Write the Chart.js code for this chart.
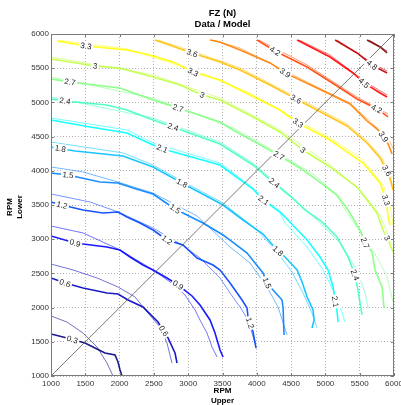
<!DOCTYPE html>
<html>
<head>
<meta charset="utf-8">
<script src="https://cdn.jsdelivr.net/npm/chart.js@4/dist/chart.umd.min.js"></script>
<style>
  html, body { margin: 0; padding: 0; background: #fff; }
  #c { display: block; }
</style>
</head>
<body>
<canvas id="c" width="401" height="405"></canvas>
<script>
// contour levels of FZ (N) and their jet colours
const LEVELS = [0.3, 0.6, 0.9, 1.2, 1.5, 1.8, 2.1, 2.4, 2.7, 3, 3.3, 3.6, 3.9, 4.2, 4.5, 4.8, 5.1];
const LEVEL_COLORS = ['#000080','#0000bf','#0000ff','#0040ff','#0080ff','#00bfff','#00ffff','#40ffbf',
                      '#80ff80','#bfff40','#ffff00','#ffbf00','#ff8000','#ff4000','#ff0000','#bf0000','#800000'];
const TICKS = [1000, 1500, 2000, 2500, 3000, 3500, 4000, 4500, 5000, 5500, 6000];

// [RPM upper, RPM lower] along each iso-line; D = measured data, M = model
const D03 = [[1000,1614],[1233,1556],[1496,1482],[1671,1395],[1787,1336],[1933,1307],[1977,1205],[2006,1088],[2035,1000]];
const M03 = [[1000,1877],[1233,1789],[1467,1629],[1671,1424],[1816,1190],[1904,1000]];
const D06 = [[1000,2433],[1204,2360],[1467,2287],[1816,2213],[1977,2199],[2123,2111],[2341,2009],[2560,1789],[2706,1556],[2808,1336],[2837,1190]];
const M06 = [[1000,2637],[1321,2550],[1671,2433],[1977,2301],[2225,2155],[2400,1936],[2589,1716],[2691,1482],[2764,1190]];
const D09 = [[1000,3047],[1350,2944],[1816,2886],[2006,2842],[2152,2740],[2341,2623],[2487,2550],[2691,2433],[2852,2330],[3056,2170],[3172,2038],[3318,1819],[3391,1629],[3464,1380],[3508,1278]];
const M09 = [[1000,3193],[1467,3091],[1977,2857],[2298,2667],[2487,2550],[2735,2375],[2954,2184],[3100,1965],[3172,1819],[3274,1629],[3347,1424],[3420,1278]];
const D12 = [[1000,3544],[1160,3500],[1467,3427],[1758,3383],[1977,3398],[2108,3325],[2298,3237],[2487,3134],[2691,2988],[2925,2915],[3129,2725],[3362,2623],[3464,2550],[3610,2360],[3785,2111],[3858,1994],[3872,1863],[3945,1643],[3989,1409]];
const M12 = [[1000,3661],[1569,3544],[1977,3398],[2487,3164],[2910,2915],[3172,2725],[3464,2433],[3610,2213],[3756,2009],[3872,1819],[3974,1483]];
const D15 = [[1000,3968],[1248,3939],[1714,3836],[1977,3822],[2196,3749],[2487,3661],[2808,3442],[3216,3237],[3508,3061],[3610,2988],[3858,2798],[4091,2506],[4149,2360],[4237,2257],[4368,2111],[4383,1994],[4397,1599]];
const M15 = [[1000,4056],[1467,3983],[1977,3836],[2487,3675],[3129,3339],[3610,2886],[3901,2652],[4149,2301],[4310,2009],[4441,1599]];
const D18 = [[1000,4348],[1350,4290],[2050,4217],[2487,4056],[2910,3822],[3508,3500],[3800,3281],[4091,3076],[4295,2842],[4412,2740],[4587,2550],[4660,2374],[4733,2155],[4820,1965],[4835,1819],[4805,1702]];
const M18 = [[1000,4421],[2050,4261],[2487,4085],[2910,3851],[3508,3529],[4003,3134],[4295,2813],[4514,2520],[4674,2213],[4805,1921],[4878,1702]];
const D21 = [[1000,4743],[1569,4641],[2108,4553],[2487,4377],[2633,4319],[3464,4085],[3945,3734],[4091,3573],[4339,3398],[4455,3281],[4733,2988],[4922,2740],[5039,2550],[5112,2301],[5141,2111],[5170,1936],[5185,1790]];
const M21 = [[1000,4772],[2108,4597],[2487,4407],[3464,4114],[3945,3749],[4339,3383],[4412,3237],[4733,2886],[4966,2550],[5112,2257],[5214,2009],[5287,1790]];
const D24 = [[1000,5050],[1204,5021],[1816,4962],[2108,4889],[2487,4743],[2779,4641],[3464,4392],[3945,4085],[4237,3836],[4485,3631],[4703,3427],[4951,3252],[5170,3032],[5330,2740],[5432,2477],[5476,2257],[5505,2067],[5534,1892]];
const M24 = [[1000,5079],[2487,4772],[3464,4421],[3945,4114],[4485,3646],[4878,3281],[5214,2944],[5461,2550],[5578,2213],[5622,1994]];
const D27 = [[1000,5342],[1277,5299],[2006,5211],[2487,5035],[2852,4918],[3464,4714],[3654,4597],[3974,4421],[4310,4231],[4630,4041],[4820,3909],[5170,3646],[5330,3427],[5505,3134],[5578,2944],[5680,2813],[5724,2550],[5826,2301],[5855,1994]];
const M27 = [[1000,5371],[2487,5064],[3654,4626],[4310,4260],[4820,3954],[5141,3676],[5316,3383],[5549,3047],[5753,2740],[5899,2447],[5987,2082]];
const D30 = [[1000,5635],[1642,5533],[2006,5504],[2487,5372],[2881,5255],[3202,5109],[3464,5035],[3945,4787],[4339,4568],[4674,4304],[5068,4056],[5461,3763],[5753,3383],[5840,3134],[5899,3017],[5987,2813]];
const M30 = [[1000,5664],[2487,5401],[3464,5064],[4339,4597],[5068,4085],[5505,3719],[5797,3354],[5972,2915]];
const D33 = [[1088,5898],[1511,5825],[2108,5766],[2443,5693],[2779,5591],[3071,5445],[3464,5328],[3901,5109],[4339,4889],[4601,4699],[5068,4450],[5549,4114],[5797,3822],[5884,3573],[5914,3325],[5943,3208]];
const M33 = [[1088,5912],[2108,5781],[3071,5474],[3901,5138],[4601,4728],[5068,4480],[5549,4158],[5840,3793],[5943,3500],[5987,3208]];
const D36 = [[2516,5912],[3056,5722],[3464,5591],[3756,5474],[4193,5255],[4572,5050],[4820,4918],[5316,4655],[5607,4407],[5797,4187],[5899,3997],[5957,3837],[5987,3719]];
const M36 = [[2560,5912],[3056,5751],[3756,5503],[4572,5079],[5316,4684],[5607,4436],[5826,4187],[5943,3939],[5987,3719]];
const D39 = [[3318,5912],[3464,5883],[3756,5766],[4193,5577],[4412,5431],[4878,5211],[5359,4977],[5607,4728],[5753,4611],[5840,4509],[5914,4392],[5972,4246]];
const M39 = [[3347,5912],[3756,5795],[4412,5459],[4878,5225],[5359,4991],[5753,4626],[5943,4421],[6000,4304]];
const D42 = [[4003,5912],[4266,5751],[4733,5518],[5170,5240],[5461,5050],[5753,4904],[5914,4787]];
const M42 = [[4033,5912],[4733,5547],[5461,5079],[5914,4831]];
const D45 = [[4587,5912],[5068,5664],[5403,5430],[5563,5284],[5797,5138],[5899,5079]];
const M45 = [[4616,5912],[5068,5693],[5563,5313],[5899,5109]];
const D48 = [[5141,5912],[5461,5723],[5680,5547],[5899,5430]];
const M48 = [[5170,5912],[5680,5576],[5899,5459]];
const D51 = [[5607,5912],[5797,5810],[5899,5723]];
const M51 = [[5636,5912],[5899,5751]];

const DATA_LINES  = [D03, D06, D09, D12, D15, D18, D21, D24, D27, D30, D33, D36, D39, D42, D45, D48, D51];
const MODEL_LINES = [M03, M06, M09, M12, M15, M18, M21, M24, M27, M30, M33, M36, M39, M42, M45, M48, M51];

// inline labels: [level, RPM upper, RPM lower] (snapped onto the data line)
const LABELS = [
  [0.3,1306,1512],
  [0.6,1204,2360],[0.6,2618,1643],
  [0.9,1350,2944],[0.9,2852,2330],
  [1.2,1160,3500],[1.2,2691,2988],[1.2,3901,1775],
  [1.5,1248,3939],[1.5,2808,3442],[1.5,4149,2360],
  [1.8,1131,4290],[1.8,2910,3822],[1.8,4295,2813],
  [2.1,2618,4319],[2.1,4091,3558],[2.1,5112,2082],
  [2.4,1204,5021],[2.4,2779,4641],[2.4,4266,3836],[2.4,5432,2477],
  [2.7,1277,5299],[2.7,2852,4918],[2.7,4310,4202],[2.7,5578,2944],
  [3,1642,5533],[3,3202,5109],[3,4674,4304],[3,5899,3017],
  [3.3,1511,5825],[3.3,3071,5445],[3.3,4601,4699],[3.3,5884,3573],
  [3.6,3056,5722],[3.6,4572,5050],[3.6,5914,4012],
  [3.9,4412,5431],[3.9,5840,4494],
  [4.2,4266,5751],[4.2,5738,4889],
  [4.5,5563,5284],
  [4.8,5680,5547]
];

const FONT = "'Liberation Sans', Arial, sans-serif";
const toXY = pts => pts.map(p => ({ x: p[0], y: p[1] }));

function hexA(hex, a){
  const n = parseInt(hex.slice(1), 16);
  return `rgba(${n >> 16},${(n >> 8) & 255},${n & 255},${a})`;
}

const datasets = [];
LEVELS.forEach((lvl, i) => {
  datasets.push({ label: 'data ' + lvl, data: toXY(DATA_LINES[i]), showLine: true,
    borderColor: hexA(LEVEL_COLORS[i], 0.9), borderWidth: 1.6, pointRadius: 0, order: 1 });
  datasets.push({ label: 'model ' + lvl, data: toXY(MODEL_LINES[i]), showLine: true,
    borderColor: hexA(LEVEL_COLORS[i], 0.55), borderWidth: 1, pointRadius: 0, order: 2 });
});
datasets.push({ label: 'diag', data: [{x:1000,y:1000},{x:6000,y:6000}], showLine: true,
  borderColor: '#555', borderWidth: 0.8, pointRadius: 0, order: 0 });

// frame, inward ticks, titles
const framePlugin = {
  id: 'frame',
  afterDraw(chart){
    const { ctx, chartArea: a, scales } = chart;
    ctx.save();
    ctx.strokeStyle = '#7a7a7a';
    ctx.lineWidth = 1;
    ctx.strokeRect(a.left + 0.5, a.top + 0.5, a.right - a.left - 1, a.bottom - a.top - 1);
    ctx.beginPath();
    TICKS.forEach(t => {
      const x = Math.round(scales.x.getPixelForValue(t)) + 0.5;
      const y = Math.round(scales.y.getPixelForValue(t)) + 0.5;
      ctx.moveTo(x, a.bottom); ctx.lineTo(x, a.bottom - 3);
      ctx.moveTo(x, a.top); ctx.lineTo(x, a.top + 3);
      ctx.moveTo(a.left, y); ctx.lineTo(a.left + 3, y);
      ctx.moveTo(a.right, y); ctx.lineTo(a.right - 3, y);
    });
    ctx.stroke();

    const cx = (a.left + a.right) / 2;
    ctx.fillStyle = '#000';
    ctx.textAlign = 'center';
    ctx.textBaseline = 'middle';
    ctx.font = 'bold 9.5px ' + FONT;
    ctx.fillText('FZ (N)', cx, 13);
    ctx.fillText('Data / Model', cx, 24);
    ctx.font = 'bold 8px ' + FONT;
    ctx.fillText('RPM', cx, 391);
    ctx.fillText('Upper', cx, 401);
    const cy = (a.top + a.bottom) / 2 + 2;
    ctx.translate(10, cy);
    ctx.rotate(-Math.PI / 2);
    ctx.fillText('RPM', 0, 0);
    ctx.fillText('Lower', 0, 10);
    ctx.restore();
  }
};

// clabel-style inline labels
const labelPlugin = {
  id: 'clabels',
  afterDatasetsDraw(chart){
    const { ctx, scales } = chart;
    ctx.save();
    ctx.font = '8px ' + FONT;
    ctx.textAlign = 'center';
    ctx.textBaseline = 'middle';
    LABELS.forEach(([lvl, u, l]) => {
      const pts = DATA_LINES[LEVELS.indexOf(lvl)].map(p => [scales.x.getPixelForValue(p[0]), scales.y.getPixelForValue(p[1])]);
      const tx = scales.x.getPixelForValue(u), ty = scales.y.getPixelForValue(l);
      let best = null;
      for (let k = 0; k < pts.length - 1; k++){
        const [x1, y1] = pts[k], [x2, y2] = pts[k + 1];
        const dx = x2 - x1, dy = y2 - y1;
        const len2 = dx * dx + dy * dy || 1;
        const t = Math.max(0, Math.min(1, ((tx - x1) * dx + (ty - y1) * dy) / len2));
        const px = x1 + t * dx, py = y1 + t * dy;
        const d = (px - tx) ** 2 + (py - ty) ** 2;
        if (!best || d < best.d) best = { d, px, py, ang: Math.atan2(dy, dx) };
      }
      let ang = best.ang;
      if (ang > Math.PI / 2) ang -= Math.PI;
      if (ang < -Math.PI / 2) ang += Math.PI;
      const txt = String(lvl);
      const w = ctx.measureText(txt).width;
      ctx.save();
      ctx.translate(best.px, best.py);
      ctx.rotate(ang);
      ctx.fillStyle = '#fff';
      ctx.fillRect(-w / 2 - 1.5, -4.5, w + 3, 9);
      ctx.fillStyle = '#222';
      ctx.fillText(txt, 0, 0.5);
      ctx.restore();
    });
    ctx.restore();
  }
};

const axisCommon = {
  type: 'linear', min: 1000, max: 6000,
  grid: { color: '#b0b0b0', lineWidth: 1, drawTicks: false },
  border: { display: false, dash: [1, 2] }
};

new Chart(document.getElementById('c'), {
  type: 'scatter',
  data: { datasets },
  options: {
    responsive: false,
    animation: false,
    layout: { padding: { left: 0, right: 7, top: 34, bottom: 0 } },
    plugins: { legend: { display: false }, tooltip: { enabled: false }, title: { display: false } },
    elements: { line: { tension: 0 } },
    scales: {
      x: Object.assign({}, axisCommon, {
        ticks: { stepSize: 500, autoSkip: false, maxRotation: 0, padding: 3, color: '#333',
                 font: { family: FONT, size: 8 }, callback: v => String(v) },
        afterFit(s){ s.height = 29; s.paddingLeft = 0; s.paddingRight = 0; }
      }),
      y: Object.assign({}, axisCommon, {
        ticks: { stepSize: 500, autoSkip: false, padding: 2, color: '#333',
                 font: { family: FONT, size: 8 }, callback: v => String(v) },
        afterFit(s){ s.width = 51; s.paddingTop = 0; s.paddingBottom = 0; }
      })
    }
  },
  plugins: [labelPlugin, framePlugin]
});
</script>
</body>
</html>
